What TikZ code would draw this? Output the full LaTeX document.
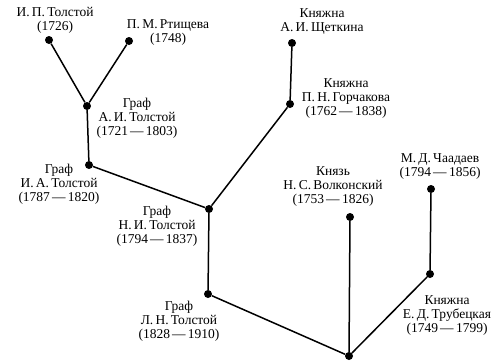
\documentclass[tikz,border=0pt]{standalone}
\usepackage{fontspec}
\setmainfont{Liberation Serif}
\begin{document}
\begin{tikzpicture}[x=1pt,y=-1pt,
  person/.style={circle,fill=black,inner sep=0pt,minimum size=8pt},
  caption/.style={align=center,inner sep=0pt,font=\fontsize{13.5}{14}\selectfont},
  link/.style={line width=1.5pt}]
\useasboundingbox (0,0) rectangle (497,360);
% people
\node[person] (ip) at (49,40) {};
\node[person] (pm) at (129,41) {};
\node[person] (ai) at (87,106) {};
\node[person] (ia) at (89,165) {};
\node[person] (ni) at (209,209) {};
\node[person] (ln) at (208,294) {};
\node[person] (ms) at (349,356) {};
\node[person] (nv) at (350,217) {};
\node[person] (md) at (431,189) {};
\node[person] (et) at (430,274) {};
\node[person] (as) at (292,43) {};
\node[person] (pg) at (290,104) {};
% family lines
\draw[link] (ip) -- (ai) -- (pm);
\draw[link] (ai) -- (ia) -- (ni) -- (pg) -- (as);
\draw[link] (ni) -- (ln) -- (ms) -- (nv);
\draw[link] (ms) -- (et) -- (md);
% captions
\node[caption] (tip) at (55,20) {И.\,П.\,Толстой\\(1726)};
\node[caption] (tpm) at (168,33) {П.\,М.\,Ртищева\\(1748)};
\node[caption] (tai) at (137,118) {Граф\\А.\,И.\,Толстой\\(1721\,—\,1803)};
\node[caption] (tia) at (59,184) {Граф\\И.\,А.\,Толстой\\(1787\,—\,1820)};
\node[caption] (tni) at (157,226) {Граф\\Н.\,И.\,Толстой\\(1794\,—\,1837)};
\node[caption] (tln) at (179,321) {Граф\\Л.\,Н.\,Толстой\\(1828\,—\,1910)};
\node[caption] (tnv) at (333,187) {Князь\\Н.\,С.\,Волконский\\(1753\,—\,1826)};
\node[caption] (tmd) at (440,167) {М.\,Д.\,Чаадаев\\(1794\,—\,1856)};
\node[caption] (tet) at (447,316) {Княжна\\Е.\,Д.\,Трубецкая\\(1749\,—\,1799)};
\node[caption] (tas) at (322,22) {Княжна\\А.\,И.\,Щеткина};
\node[caption] (tpg) at (346,99) {Княжна\\П.\,Н.\,Горчакова\\(1762\,—\,1838)};
\end{tikzpicture}
\end{document}
